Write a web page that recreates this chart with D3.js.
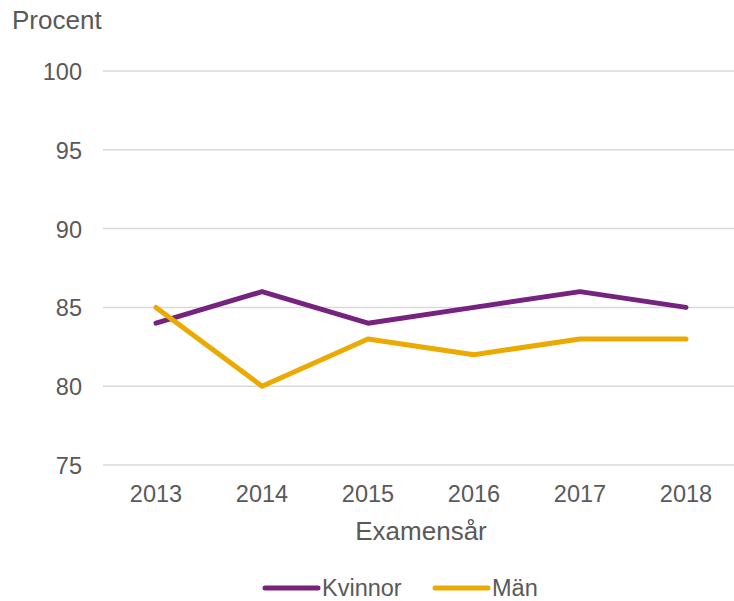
<!DOCTYPE html>
<html lang="sv">
<head>
<meta charset="utf-8">
<script src="https://cdn.jsdelivr.net/npm/d3@7"></script>
<style>
    body { margin: 0; background: #fff; }
    text { font-family: "Liberation Sans", Arial, sans-serif; fill: #595959; }
    .grid line { stroke: #d9d9d9; stroke-width: 1.5px; }
</style>
</head>
<body>
<svg width="734" height="601"></svg>
<script>
var years = ["2013", "2014", "2015", "2016", "2017", "2018"];
var kvinnor = [84, 86, 84, 85, 86, 85];
var man = [85, 80, 83, 82, 83, 83];
var yTicks = [75, 80, 85, 90, 95, 100];

var series = [
    { name: "Kvinnor", values: kvinnor, color: "#76237f" },
    { name: "Män", values: man, color: "#ebaa00" }
];

var svg = d3.select("svg");

var x = d3.scaleBand().domain(years).range([103, 739]);
var y = d3.scaleLinear().domain([75, 100]).range([465, 71]);

// gridlines
svg.append("g").attr("class", "grid")
    .selectAll("line")
    .data(yTicks)
    .enter().append("line")
    .attr("x1", 103).attr("x2", 739)
    .attr("y1", function(d) { return y(d); })
    .attr("y2", function(d) { return y(d); });

// y tick labels
svg.append("g").selectAll("text")
    .data(yTicks)
    .enter().append("text")
    .attr("x", 82)
    .attr("y", function(d) { return y(d) + 9; })
    .attr("text-anchor", "end")
    .style("font-size", "23.5px")
    .text(function(d) { return d; });

// x tick labels
svg.append("g").selectAll("text")
    .data(years)
    .enter().append("text")
    .attr("x", function(d) { return x(d) + x.bandwidth() / 2; })
    .attr("y", 502)
    .attr("text-anchor", "middle")
    .style("font-size", "23.5px")
    .text(function(d) { return d; });

svg.append("text")
    .attr("x", 12).attr("y", 29)
    .style("font-size", "26px")
    .text("Procent");

svg.append("text")
    .attr("x", 421).attr("y", 540)
    .attr("text-anchor", "middle")
    .style("font-size", "26px")
    .text("Examensår");

var line = d3.line()
    .x(function(d, i) { return x(years[i]) + x.bandwidth() / 2; })
    .y(function(d) { return y(d); });

svg.append("g").selectAll("path")
    .data(series)
    .enter().append("path")
    .attr("fill", "none")
    .attr("stroke", function(d) { return d.color; })
    .attr("stroke-width", 5)
    .attr("stroke-linecap", "round")
    .attr("stroke-linejoin", "round")
    .attr("d", function(d) { return line(d.values); });

// legend
var legendX = [265, 435];
var legend = svg.append("g").selectAll("g")
    .data(series)
    .enter().append("g")
    .attr("transform", function(d, i) { return "translate(" + legendX[i] + ",588)"; });

legend.append("line")
    .attr("x1", 0).attr("x2", 53)
    .attr("stroke", function(d) { return d.color; })
    .attr("stroke-width", 5)
    .attr("stroke-linecap", "round");

legend.append("text")
    .attr("x", 57).attr("y", 8)
    .style("font-size", "23.5px")
    .text(function(d) { return d.name; });
</script>
</body>
</html>
